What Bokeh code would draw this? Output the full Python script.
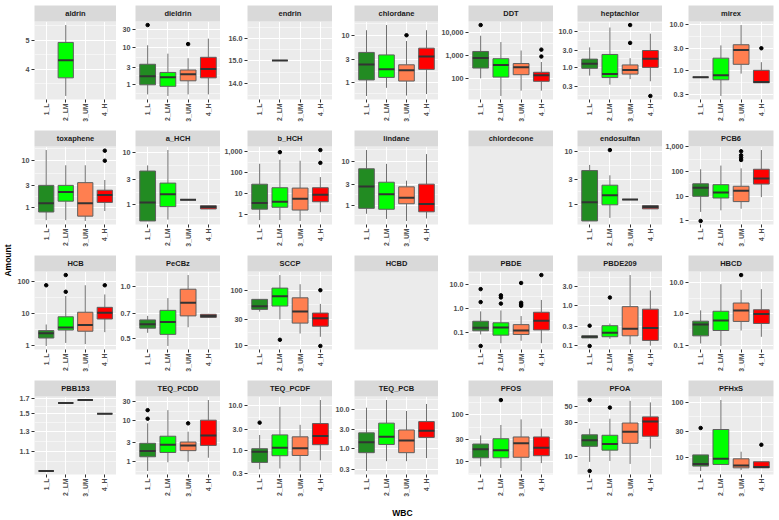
import math
from bokeh.plotting import figure
from bokeh.models import ColumnDataSource, FactorRange, Range1d, FixedTicker, CategoricalAxis, Spacer
from bokeh.layouts import gridplot, row, column
from bokeh.transform import dodge
from bokeh.core.properties import value
from bokeh.embed import file_html
from bokeh.resources import INLINE

GROUPS = ["1_L", "2_LM", "3_UM", "4_H"]
FILL = ["#228B22", "#00FF00", "#FF7F50", "#FF0000"]

ANALYTES = [
    "aldrin", "dieldrin", "endrin", "chlordane", "DDT", "heptachlor", "mirex",
    "toxaphene", "a_HCH", "b_HCH", "lindane", "chlordecone", "endosulfan", "PCB6",
    "HCB", "PeCBz", "SCCP", "HCBD", "PBDE", "PBDE209", "HBCD",
    "PBB153", "TEQ_PCDD", "TEQ_PCDF", "TEQ_PCB", "PFOS", "PFOA", "PFHxS",
]
N = None

# Box-plot statistics per analyte, in GROUPS order (None = no samples)
LOWER = {
    "aldrin": [N, 3.25, N, N], "dieldrin": [0.55, 0.50, 0.55, 0.55], "endrin": [N, 15.0, N, N],
    "chlordane": [0.50, 0.75, 0.51, 0.55], "DDT": [100, 17, 29, 29], "heptachlor": [0.59, 0.33, 0.47, 0.41],
    "mirex": [0.71, 0.28, 0.85, 0.54], "toxaphene": [0.55, 0.55, 0.53, 0.86], "a_HCH": [0.49, 0.52, 1.24, 0.83],
    "b_HCH": [0.55, 0.55, 0.50, 1.3], "lindane": [0.64, 0.49, 0.44, 0.50], "chlordecone": [N, N, N, N],
    "endosulfan": [0.49, 0.56, 1.24, 0.83], "PCB6": [2.3, 2.66, 3.1, 9.1], "HCB": [1.0, 1.24, 1.14, 2.67],
    "PeCBz": [0.541, 0.455, 0.582, 0.662], "SCCP": [41.4, 30, 16.7, 14.6], "HCBD": [N, N, N, N],
    "PBDE": [0.079, 0.034, 0.043, 0.034], "PBDE209": [0.156, 0.148, 0.107, 0.10], "HBCD": [0.117, 0.098, 0.30, 0.19],
    "PBB153": [0.935, 1.64, 1.68, 1.50], "TEQ_PCDD": [0.58, 0.95, 0.98, 1.23], "TEQ_PCDF": [0.37, 0.386, 0.34, 0.59],
    "TEQ_PCB": [0.27, 0.48, 0.48, 0.575], "PFOS": [8.0, 7.4, 6.4, 9.4], "PFOA": [8.55, 8.8, 8.0, 13.0],
    "PFHxS": [5.8, 7.6, 6.0, 6.6],
}
Q1 = {
    "aldrin": [N, 3.74, N, N], "dieldrin": [1.0, 0.91, 1.28, 1.54], "endrin": [N, 15.0, N, N],
    "chlordane": [1.11, 1.26, 1.05, 1.88], "DDT": [280, 113, 144, 74], "heptachlor": [0.94, 0.52, 0.65, 1.0],
    "mirex": [0.71, 0.625, 1.35, 0.54], "toxaphene": [0.82, 1.39, 0.67, 1.31], "a_HCH": [0.49, 0.92, 1.24, 0.83],
    "b_HCH": [1.82, 2.24, 1.65, 4.1], "lindane": [0.85, 0.81, 1.08, 0.71], "chlordecone": [N, N, N, N],
    "endosulfan": [0.49, 0.99, 1.24, 0.83], "PCB6": [9.8, 8.4, 6.0, 30.7], "HCB": [1.76, 3.1, 2.85, 6.8],
    "PeCBz": [0.575, 0.53, 0.676, 0.662], "SCCP": [45.3, 52, 25.7, 22.6], "HCBD": [N, N, N, N],
    "PBDE": [0.113, 0.074, 0.079, 0.123], "PBDE209": [0.156, 0.167, 0.176, 0.135], "HBCD": [0.204, 0.30, 0.58, 0.50],
    "PBB153": [0.935, 1.64, 1.68, 1.50], "TEQ_PCDD": [1.3, 1.66, 1.84, 2.48], "TEQ_PCDF": [0.53, 0.75, 0.76, 1.33],
    "TEQ_PCB": [0.79, 1.28, 0.79, 1.94], "PFOS": [12.2, 12.2, 12.5, 13.5], "PFOA": [14.0, 12.4, 15.4, 19.3],
    "PFHxS": [7.1, 7.6, 6.6, 6.6],
}
MEDIAN = {
    "aldrin": [N, 4.29, N, N], "dieldrin": [1.69, 1.60, 1.93, 2.65], "endrin": [N, 15.0, N, N],
    "chlordane": [2.4, 1.88, 1.79, 3.57], "DDT": [760, 380, 306, 135], "heptachlor": [1.27, 0.65, 0.85, 1.74],
    "mirex": [0.71, 0.785, 2.76, 0.56], "toxaphene": [1.25, 2.17, 1.25, 1.87], "a_HCH": [1.10, 1.58, 1.24, 0.90],
    "b_HCH": [3.55, 4.1, 5.7, 8.8], "lindane": [2.65, 1.78, 1.47, 1.07], "chlordecone": [N, N, N, N],
    "endosulfan": [1.10, 1.5, 1.24, 0.90], "PCB6": [21.8, 14.1, 16.3, 52], "HCB": [2.45, 3.7, 4.4, 10.6],
    "PeCBz": [0.606, 0.623, 0.804, 0.676], "SCCP": [51.3, 77.8, 41.4, 31.4], "HCBD": [N, N, N, N],
    "PBDE": [0.152, 0.157, 0.116, 0.30], "PBDE209": [0.167, 0.21, 0.265, 0.275], "HBCD": [0.46, 0.62, 1.29, 1.0],
    "PBB153": [0.935, 1.64, 1.68, 1.50], "TEQ_PCDD": [1.81, 2.57, 2.48, 4.33], "TEQ_PCDF": [0.925, 1.14, 1.10, 2.08],
    "TEQ_PCB": [1.46, 2.0, 1.62, 2.87], "PFOS": [18.5, 17.7, 24.7, 20.0], "PFOA": [17.0, 15.1, 22.3, 30.8],
    "PFHxS": [7.76, 9.6, 7.3, 6.8],
}
Q3 = {
    "aldrin": [N, 4.92, N, N], "dieldrin": [3.57, 2.15, 2.5, 5.5], "endrin": [N, 15.0, N, N],
    "chlordane": [4.37, 3.86, 2.36, 5.4], "DDT": [1480, 716, 440, 183], "heptachlor": [1.70, 2.29, 1.17, 2.95],
    "mirex": [0.71, 1.83, 3.57, 1.0], "toxaphene": [3.0, 3.0, 3.43, 2.37], "a_HCH": [4.38, 2.58, 1.24, 0.96],
    "b_HCH": [28, 19, 18.3, 19], "lindane": [6.7, 3.32, 2.61, 3.0], "chlordecone": [N, N, N, N],
    "endosulfan": [4.38, 2.32, 1.24, 0.96], "PCB6": [31.6, 29, 25, 122], "HCB": [2.98, 7.95, 11.0, 15.6],
    "PeCBz": [0.641, 0.727, 0.96, 0.69], "SCCP": [68.5, 109, 73, 38.9], "HCBD": [N, N, N, N],
    "PBDE": [0.285, 0.245, 0.205, 0.68], "PBDE209": [0.176, 0.316, 0.95, 0.82], "HBCD": [0.59, 1.21, 2.2, 1.35],
    "PBB153": [0.935, 1.64, 1.68, 1.50], "TEQ_PCDD": [2.8, 4.18, 3.0, 10.4], "TEQ_PCDF": [1.08, 2.21, 2.0, 3.98],
    "TEQ_PCB": [2.53, 4.48, 3.0, 4.9], "PFOS": [23.9, 31, 33.8, 33.8], "PFOA": [20.2, 19.9, 29.4, 35.7],
    "PFHxS": [11.3, 32.4, 9.6, 8.5],
}
UPPER = {
    "aldrin": [N, 5.63, N, N], "dieldrin": [11.6, 6.9, 5.2, 17.5], "endrin": [N, 15.0, N, N],
    "chlordane": [13.2, 17.1, 7.7, 13.2], "DDT": [7200, 3800, 1630, 514], "heptachlor": [3.6, 12.9, 1.80, 8.7],
    "mirex": [0.71, 3.46, 9.5, 1.5], "toxaphene": [16.8, 8.0, 8.0, 3.9], "a_HCH": [5.6, 11.0, 1.24, 0.96],
    "b_HCH": [263, 405, 367, 61], "lindane": [17.8, 8.66, 3.6, 14.4], "chlordecone": [N, N, N, N],
    "endosulfan": [5.6, 3.57, 1.24, 0.96], "PCB6": [122, 172, 133, 730], "HCB": [4.6, 35, 75, 39],
    "PeCBz": [0.676, 0.854, 1.157, 0.69], "SCCP": [68.5, 187, 128, 56.8], "HCBD": [N, N, N, N],
    "PBDE": [0.74, 0.81, 0.47, 2.24], "PBDE209": [0.176, 0.358, 5.9, 2.42], "HBCD": [1.29, 8.6, 5.7, 6.0],
    "PBB153": [0.935, 1.64, 1.68, 1.50], "TEQ_PCDD": [8.7, 18.4, 5.4, 32.7], "TEQ_PCDF": [2.2, 9.5, 3.73, 13.5],
    "TEQ_PCB": [11.1, 17.4, 9.15, 13.8], "PFOS": [36.5, 60.8, 79.8, 50.8], "PFOA": [24.6, 33.7, 59.5, 56.6],
    "PFHxS": [11.3, 110, 12.9, 8.5],
}
OUTLIERS = {
    "aldrin": [[], [], [], []], "dieldrin": [[40.7], [], [12.5], []], "endrin": [[], [], [], []],
    "chlordane": [[], [], [10.3], []], "DDT": [[21000], [], [], [890, 1780]],
    "heptachlor": [[], [], [4.8, 15.1], [0.16]], "mirex": [[], [], [], [3.0]],
    "toxaphene": [[], [], [], [10, 16.3]], "a_HCH": [[], [], [], []], "b_HCH": [[], [935], [], [290, 1180]],
    "lindane": [[], [], [], []], "chlordecone": [[], [], [], []], "endosulfan": [[], [10.7], [], []],
    "PCB6": [[0.99], [], [290, 360, 447, 650], []], "HCB": [[75], [47, 155], [], [75]],
    "PeCBz": [[], [], [], []], "SCCP": [[], [12.9], [], [10, 100]], "HCBD": [[], [], [], []],
    "PBDE": [[0.026, 1.82, 6.4], [1.57, 2.85, 3.5], [1.27, 1.48, 1.71, 11.6], [25]],
    "PBDE209": [[0.098, 0.316], [1.61], [], []], "HBCD": [[], [], [16.7], []],
    "PBB153": [[], [], [], []], "TEQ_PCDD": [[11.3, 18.4], [], [8.7], []], "TEQ_PCDF": [[4.18], [], [], []],
    "TEQ_PCB": [[], [], [], []], "PFOS": [[], [206], [], []], "PFOA": [[6.4, 61], [48], [], []],
    "PFHxS": [[34.5], [], [], [17.2]],
}
Y_TICKS = {
    "aldrin": [4, 5], "dieldrin": [1, 3, 10, 30], "endrin": [14, 15, 16], "chlordane": [1, 3, 10],
    "DDT": [100, 1000, 10000], "heptachlor": [0.3, 1, 3, 10], "mirex": [0.3, 1, 3, 10],
    "toxaphene": [1, 3, 10], "a_HCH": [1, 3, 10], "b_HCH": [1, 10, 100, 1000], "lindane": [1, 3, 10],
    "chlordecone": [], "endosulfan": [1, 3, 10], "PCB6": [1, 10, 100, 1000], "HCB": [1, 10, 100],
    "PeCBz": [0.5, 0.7, 1.0], "SCCP": [10, 30, 100], "HCBD": [], "PBDE": [0.1, 1, 10],
    "PBDE209": [0.1, 0.3, 1, 3], "HBCD": [0.1, 1, 10], "PBB153": [1.1, 1.3, 1.5, 1.7],
    "TEQ_PCDD": [1, 3, 10, 30], "TEQ_PCDF": [0.3, 1, 3, 10], "TEQ_PCB": [0.3, 1, 3, 10],
    "PFOS": [10, 30, 100], "PFOA": [10, 30, 50], "PFHxS": [10, 30, 100],
}
Y_LABELS = {
    "aldrin": ["4", "5"], "dieldrin": ["1", "3", "10", "30"], "endrin": ["14.0", "15.0", "16.0"],
    "chlordane": ["1", "3", "10"], "DDT": ["100", "1,000", "10,000"],
    "heptachlor": ["0.3", "1.0", "3.0", "10.0"], "mirex": ["0.3", "1.0", "3.0", "10.0"],
    "toxaphene": ["1", "3", "10"], "a_HCH": ["1", "3", "10"], "b_HCH": ["1", "10", "100", "1,000"],
    "lindane": ["1", "3", "10"], "chlordecone": [], "endosulfan": ["1", "3", "10"],
    "PCB6": ["1", "10", "100", "1,000"], "HCB": ["1", "10", "100"], "PeCBz": ["0.5", "0.7", "1.0"],
    "SCCP": ["10", "30", "100"], "HCBD": [], "PBDE": ["0.1", "1.0", "10.0"],
    "PBDE209": ["0.1", "0.3", "1.0", "3.0"], "HBCD": ["0.1", "1.0", "10.0"],
    "PBB153": ["1.1", "1.3", "1.5", "1.7"], "TEQ_PCDD": ["1", "3", "10", "30"],
    "TEQ_PCDF": ["0.3", "1.0", "3.0", "10.0"], "TEQ_PCB": ["0.3", "1.0", "3.0", "10.0"],
    "PFOS": ["10", "30", "100"], "PFOA": ["10", "30", "50"], "PFHxS": ["10", "30", "100"],
}

FONT = "Liberation Sans"
NCOL = 7
FW = 85
ROW_H = 125
TOP_GAP = 5
AMOUNT_W = 14
RIGHT_PAD = 6
MBL = [17, 19, 27, 21, 30, 24, 26]
MBB = 31
WBC_H = 520 - TOP_GAP - 4 * ROW_H
BOX_W = 0.78
EDGE = "#5E5E5E"
WHISK = "#707070"
MED = "#333333"
TICK_TXT = "#4D4D4D"


def y_limits(name):
    vals = [v for arr in (LOWER, Q1, MEDIAN, Q3, UPPER) for v in arr[name] if v is not None]
    vals += [v for grp in OUTLIERS[name] for v in grp]
    lo, hi = math.log10(min(vals)), math.log10(max(vals))
    pad = (hi - lo) * 0.05 if hi > lo else 0.05
    return 10 ** (lo - pad), 10 ** (hi + pad)


def minor_ticks(ticks):
    logs = [math.log10(t) for t in ticks]
    if len(logs) < 2:
        return []
    mids = [(a + b) / 2 for a, b in zip(logs, logs[1:])]
    mids = [logs[0] - (logs[1] - logs[0]) / 2] + mids + [logs[-1] + (logs[-1] - logs[-2]) / 2]
    return [10 ** m for m in mids]


def style_axis(ax, size):
    ax.axis_line_color = None
    ax.major_tick_line_color = "#333333"
    ax.major_tick_in = 0
    ax.major_tick_out = 3
    ax.minor_tick_line_color = None
    ax.major_label_standoff = 1
    ax.major_label_text_font = FONT
    ax.major_label_text_font_size = size
    ax.major_label_text_font_style = "bold"
    ax.major_label_text_color = TICK_TXT


def add_strip(p, name):
    ax = CategoricalAxis(axis_label=name, ticker=FixedTicker(ticks=[]))
    ax.axis_line_color = None
    ax.major_tick_line_color = None
    ax.minor_tick_line_color = None
    ax.major_tick_in = 0
    ax.major_tick_out = 0
    ax.major_label_standoff = 0
    ax.axis_label_standoff = 4
    ax.axis_label_text_font = FONT
    ax.axis_label_text_font_size = "7.5px"
    ax.axis_label_text_font_style = "bold"
    ax.axis_label_text_color = "#1A1A1A"
    ax.background_fill_color = "#D9D9D9"
    p.add_layout(ax, "above")


def make_panel(i, name):
    c = i % NCOL
    has = any(v is not None for v in MEDIAN[name])
    xr = FactorRange(*GROUPS, range_padding=0.05)
    right = RIGHT_PAD if c == NCOL - 1 else 0
    common = dict(x_range=xr, width=MBL[c] + FW + right, height=ROW_H,
                  min_border_left=MBL[c], min_border_right=right, min_border_top=0,
                  min_border_bottom=MBB, toolbar_location=None, output_backend="svg",
                  background_fill_color="#EBEBEB", border_fill_color="white",
                  outline_line_color=None)
    if not has:
        p = figure(y_range=Range1d(0, 1), x_axis_location=None, y_axis_location=None, **common)
        p.grid.visible = False
        add_strip(p, name)
        return p

    y0, y1 = y_limits(name)
    p = figure(y_range=Range1d(y0, y1), y_axis_type="log", **common)
    p.xaxis.major_label_orientation = math.pi / 2
    style_axis(p.xaxis[0], "6.8px")
    style_axis(p.yaxis[0], "7.2px")
    ticks = Y_TICKS[name]
    tk = FixedTicker(ticks=ticks, minor_ticks=minor_ticks(ticks))
    p.yaxis[0].ticker = tk
    p.ygrid[0].ticker = tk
    p.yaxis[0].major_label_overrides = dict(zip(ticks, Y_LABELS[name]))
    p.xgrid.grid_line_color = "white"
    p.xgrid.grid_line_width = 1
    p.ygrid.grid_line_color = "white"
    p.ygrid.grid_line_width = 1
    p.ygrid.minor_grid_line_color = "white"
    p.ygrid.minor_grid_line_width = 0.5

    idx = [k for k in range(4) if MEDIAN[name][k] is not None]
    src = ColumnDataSource(dict(
        grp=[GROUPS[k] for k in idx],
        lo=[LOWER[name][k] for k in idx], q1=[Q1[name][k] for k in idx],
        med=[MEDIAN[name][k] for k in idx], q3=[Q3[name][k] for k in idx],
        hi=[UPPER[name][k] for k in idx], fill=[FILL[k] for k in idx],
    ))
    p.segment(x0="grp", y0="lo", x1="grp", y1="q1", source=src, line_color=WHISK, line_width=1)
    p.segment(x0="grp", y0="q3", x1="grp", y1="hi", source=src, line_color=WHISK, line_width=1)
    p.vbar(x="grp", width=BOX_W, bottom="q1", top="q3", source=src,
           fill_color="fill", line_color=EDGE, line_width=1)
    p.segment(x0=dodge("grp", -BOX_W / 2, range=xr), y0="med",
              x1=dodge("grp", BOX_W / 2, range=xr), y1="med",
              source=src, line_color=MED, line_width=2)
    ox = [GROUPS[k] for k, grp in enumerate(OUTLIERS[name]) for _ in grp]
    oy = [v for grp in OUTLIERS[name] for v in grp]
    if ox:
        p.scatter(x=ox, y=oy, size=3.5, color="black")
    add_strip(p, name)
    return p


panels = [make_panel(i, n) for i, n in enumerate(ANALYTES)]
rows = [panels[r * NCOL:(r + 1) * NCOL] for r in range(len(panels) // NCOL)]
grid = gridplot(rows, toolbar_location=None)

grid_w = sum(MBL) + NCOL * FW + RIGHT_PAD
wbc = figure(width=grid_w, height=WBC_H, x_range=Range1d(0, 1), y_range=Range1d(0, 1),
             min_border_left=MBL[0], min_border_right=RIGHT_PAD, min_border_top=0, min_border_bottom=0,
             x_axis_location=None, y_axis_location=None, toolbar_location=None,
             output_backend="svg", outline_line_color=None)
wbc.grid.visible = False
wbc.text(x=[0.5], y=[0.5], text=["WBC"], text_align="center", text_baseline="middle",
         text_font=value(FONT), text_font_style="bold", text_font_size="8.5px", text_color="black")

amount = figure(width=AMOUNT_W, height=520, x_range=Range1d(0, 1), y_range=Range1d(0, 1),
                min_border=0, x_axis_location=None, y_axis_location=None, toolbar_location=None,
                output_backend="svg", outline_line_color=None)
amount.grid.visible = False
amount.text(x=[0.5], y=[0.5], text=["Amount"], angle=math.pi / 2, text_align="center",
            text_baseline="middle", text_font=value(FONT), text_font_style="bold",
            text_font_size="8.5px", text_color="black")

layout = row(amount, column(Spacer(width=grid_w, height=TOP_GAP), grid, wbc))
open("out.html", "w").write(file_html(layout, INLINE))
